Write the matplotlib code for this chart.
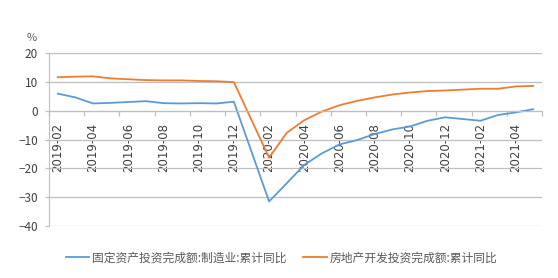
import numpy as np
import matplotlib
matplotlib.use('Agg')
import matplotlib.pyplot as plt
from matplotlib.ticker import FixedLocator, NullFormatter, FixedFormatter

plt.rcParams['font.family'] = ['Noto Sans CJK SC', 'DejaVu Sans']

# monthly categories (January has no separate data point)
months = ['2019-02', '2019-03', '2019-04', '2019-05', '2019-06', '2019-07',
          '2019-08', '2019-09', '2019-10', '2019-11', '2019-12', '2020-01',
          '2020-02', '2020-03', '2020-04', '2020-05', '2020-06', '2020-07',
          '2020-08', '2020-09', '2020-10', '2020-11', '2020-12', '2021-01',
          '2021-02', '2021-03', '2021-04', '2021-05']

manufacturing = [5.9, 4.6, 2.5, 2.7, 3.0, 3.3, 2.6, 2.5, 2.6, 2.5, 3.1, None,
                 -31.5, -25.2, -18.8, -14.8, -11.7, -10.2, -8.1, -6.5, -5.5, -3.5, -2.3, None,
                 -3.5, -1.5, -0.6, 0.5]
real_estate = [11.6, 11.8, 11.9, 11.2, 10.9, 10.6, 10.5, 10.5, 10.3, 10.2, 9.9, None,
               -16.3, -7.7, -3.3, -0.3, 1.9, 3.4, 4.6, 5.6, 6.3, 6.8, 7.0, None,
               7.6, 7.6, 8.4, 8.6]

series_names = ['固定资产投资完成额:制造业:累计同比', '房地产开发投资完成额:累计同比']
colors = ['#5B9BD5', '#ED7D31']

text_color = '#404040'
grid_color = '#BFBFBF'

fig = plt.figure(figsize=(5.58, 2.78), dpi=100)
ax = fig.add_axes([49 / 558, 1 - 226 / 278, 493 / 558, 173 / 278])

x = np.arange(len(months)) + 0.5
for vals, name, c in zip([manufacturing, real_estate], series_names, colors):
    y = np.array([np.nan if v is None else v for v in vals], dtype=float)
    ok = np.isfinite(y)
    ax.plot(x[ok], y[ok], color=c, lw=1.3, label=name)

ax.set_xlim(0, len(months))
ax.set_ylim(-40, 20)
ax.set_yticks([-40, -30, -20, -10, 0, 10, 20])
ax.grid(axis='y', color=grid_color, lw=0.9)
ax.set_axisbelow(True)

for s in ['top', 'right']:
    ax.spines[s].set_visible(False)
ax.spines['left'].set_color(grid_color)
ax.spines['bottom'].set_color(grid_color)
ax.spines['bottom'].set_position(('data', 0))

# major ticks at category boundaries, labels at every other category centre
ax.xaxis.set_major_locator(FixedLocator(np.arange(0, len(months) + 1, 2)))
ax.xaxis.set_major_formatter(NullFormatter())
label_pos = x[::2]
ax.xaxis.set_minor_locator(FixedLocator(label_pos))
ax.xaxis.set_minor_formatter(FixedFormatter(months[::2]))
ax.tick_params(axis='x', which='major', length=3.5, color=grid_color, width=0.9)
ax.tick_params(axis='x', which='minor', length=0, pad=9, labelsize=8.5,
               labelcolor=text_color, labelrotation=90)
ax.tick_params(axis='y', length=3, color=grid_color, width=0.9, pad=5,
               labelsize=8.5, labelcolor=text_color)
for lbl in ax.xaxis.get_minorticklabels():
    lbl.set_va('top')
    lbl.set_family(['DejaVu Sans'])

fig.text(32 / 558, 1 - 38 / 278, '%', ha='center', va='center',
         fontsize=8, color='#595959')

fig.legend(loc='center', bbox_to_anchor=(0.505, 1 - 258 / 278), ncol=2,
           frameon=False, fontsize=8.5, handlelength=2.0, handletextpad=0.25,
           columnspacing=1.4, labelcolor='#595959')

fig.savefig('out.png', dpi=100)
